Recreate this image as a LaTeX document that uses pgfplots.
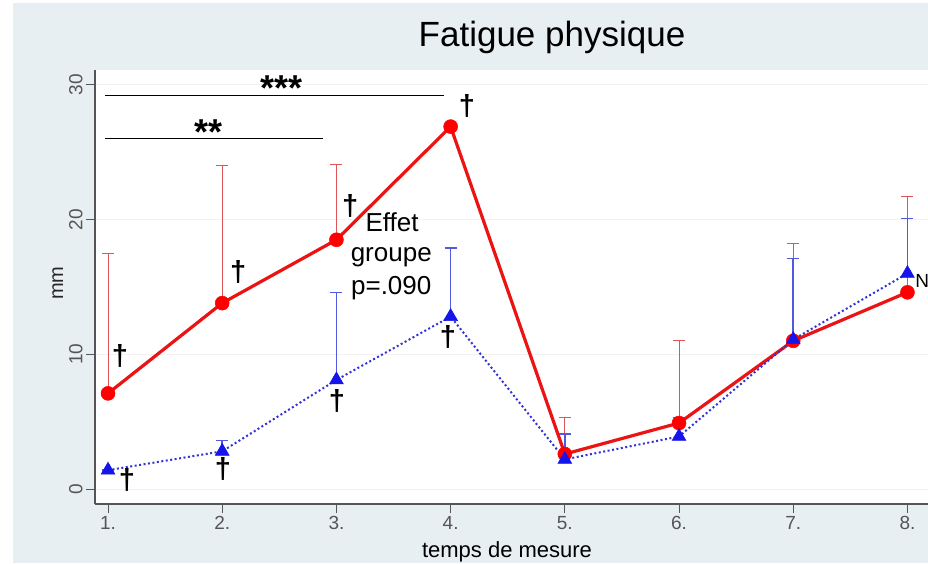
\documentclass[border=0pt]{standalone}
\usepackage{pgfplots}
\pgfplotsset{compat=1.18}
\usepackage{fontspec}
\setmainfont{Liberation Sans}
\definecolor{bg}{HTML}{E8EFF2}
\definecolor{redline}{RGB}{235,20,20}
\definecolor{redbar}{RGB}{222,85,85}
\definecolor{blueline}{RGB}{50,50,215}
\definecolor{bluemark}{RGB}{20,20,235}
\definecolor{bluebar}{RGB}{80,90,225}
\definecolor{axgray}{RGB}{85,85,85}
\pgfplotstableread{
x y e
1 7.1 10.4
2 13.8 10.2
3 18.5 5.6
4 26.9 0
5 2.6 2.7
6 4.9 6.1
7 11.0 7.2
8 14.6 7.1
}\redtab
\pgfplotstableread{
x y e
1 1.4 0
2 2.8 0.8
3 8.1 6.5
4 12.8 5.1
5 2.2 1.9
6 3.9 1.4
7 11.1 6.0
8 16.0 4.1
}\bluetab
\begin{document}
\begin{tikzpicture}[x=1pt,y=1pt]
\fill[bg] (0,0) rectangle (928,563);
\fill[white] (0,560) rectangle (928,563);
\fill[white] (0,0) rectangle (13,563);
\useasboundingbox (0,0) rectangle (928,563);
\begin{axis}[
  at={(95pt,59pt)}, anchor=south west,
  scale only axis, width=833pt, height=434pt,
  xmin=0.886, xmax=8.18, ymin=-1.11, ymax=31.1,
  axis background/.style={fill=white},
  axis x line*=bottom, axis y line*=left,
  axis line style={-, draw=axgray, line width=1.2pt},
  xtick={1,2,3,4,5,6,7,8},
  xticklabels={1.,2.,3.,4.,5.,6.,7.,8.},
  ytick={0,10,20,30},
  tick align=outside, major tick length=9pt,
  tick style={draw=axgray, line width=1pt},
  ymajorgrids, grid style={draw=gray!10, line width=1pt},
  /pgf/number format/assume math mode=true,
  ticklabel style={font=\fontsize{19}{19}\selectfont, text=axgray},
  yticklabel style={rotate=90, anchor=south},
  clip=false,
]
\addplot[only marks, mark=none, forget plot,
  error bars/.cd, y dir=plus, y explicit,
  error bar style={draw=redbar, line width=1pt},
  error mark options={rotate=90, mark size=6pt, draw=redbar, line width=1pt}]
  table[x=x, y=y, y error=e] {\redtab};
\addplot[only marks, mark=none, forget plot,
  error bars/.cd, y dir=plus, y explicit,
  error bar style={draw=bluebar, line width=1.6pt},
  error mark options={rotate=90, mark size=6pt, draw=bluebar, line width=1.4pt}]
  table[x=x, y=y, y error=e] {\bluetab};
\addplot[redline, line width=3.2pt, mark=*, mark size=7pt,
  mark options={fill=red, draw=red, line width=0.5pt}]
  table[x=x, y=y] {\redtab};
\addplot[blueline, line width=2pt, dash pattern=on 2pt off 2.5pt,
  mark=triangle*, mark size=8pt,
  mark options={solid, fill=bluemark, draw=bluemark, line width=0.5pt}]
  table[x=x, y=y] {\bluetab};
% significance bars
\draw[black, line width=1.1pt] (axis cs:0.974,29.2) -- (axis cs:3.94,29.2);
\draw[black, line width=1.1pt] (axis cs:0.974,26.0) -- (axis cs:2.883,26.0);
\node[anchor=base, font=\bfseries\fontsize{36}{36}\selectfont, inner sep=0pt] at (axis cs:2.52,28.85) {***};
\node[anchor=base, font=\bfseries\fontsize{36}{36}\selectfont, inner sep=0pt] at (axis cs:1.876,25.6) {**};
% daggers
\begin{scope}[every node/.style={font=\bfseries\fontsize{29}{29}\selectfont, inner sep=0pt, anchor=center}]
\node at (axis cs:1.105,9.85) {†};
\node at (axis cs:1.166,0.67) {†};
\node at (axis cs:2.14,16.1) {†};
\node at (axis cs:2.007,1.5) {†};
\node at (axis cs:3.12,21.0) {†};
\node at (axis cs:3.005,6.5) {†};
\node at (axis cs:4.143,28.4) {†};
\node at (axis cs:3.977,11.3) {†};
\end{scope}
\begin{scope}[every node/.style={font=\fontsize{26}{26}\selectfont, inner sep=0pt, anchor=base}]
\node at (axis cs:3.487,19.1) {Effet};
\node at (axis cs:3.48,16.9) {groupe};
\node at (axis cs:3.48,14.44) {p=.090};
\end{scope}
\node[anchor=base west, inner sep=0pt, font=\fontsize{19}{19}\selectfont] at (axis cs:8.067,14.96) {N};
\end{axis}
\node[anchor=base, font=\fontsize{35}{35}\selectfont] at (552,516) {Fatigue physique};
\node[anchor=base, font=\fontsize{22}{22}\selectfont] at (507,6) {temps de mesure};
\node[anchor=base, rotate=90, font=\fontsize{20}{20}\selectfont, text=black!85] at (63,280) {mm};
\end{tikzpicture}
\end{document}
